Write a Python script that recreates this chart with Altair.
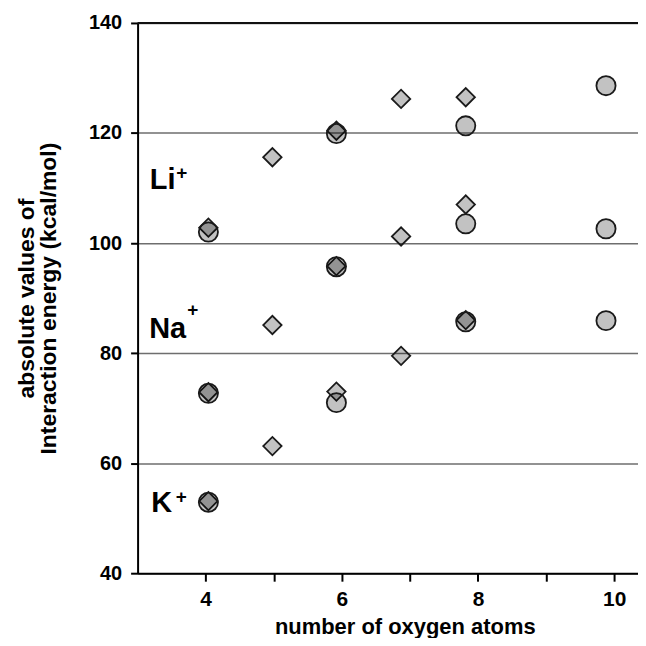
import altair as alt
import pandas as pd

# ---- data ----
diamond_x = [4.04, 4.04, 4.04, 4.98, 4.98, 4.98, 5.92, 5.92, 5.92, 6.87, 6.87, 6.87, 7.82, 7.82, 7.82]
diamond_y = [102.8, 72.9, 53.1, 115.6, 85.1, 63.1, 120.4, 95.8, 73.0, 126.2, 101.2, 79.5, 126.5, 107.0, 86.0]

circle_x = [4.04, 4.04, 4.04, 5.92, 5.92, 5.92, 7.82, 7.82, 7.82, 9.88, 9.88, 9.88]
circle_y = [102.0, 72.7, 52.9, 119.9, 95.7, 71.0, 121.3, 103.5, 85.7, 128.6, 102.6, 85.9]

ion_names = ["Li", "Na", "K"]
ion_x = [3.18, 3.17, 3.2]
ion_y = [109.9, 82.75, 51.2]
plus_x = [3.65, 3.81, 3.64]
plus_y = [111.7, 86.8, 52.7]

x_ticks = [4, 5, 6, 7, 8, 9, 10]
y_ticks = [40, 60, 80, 100, 120, 140]
top_line = [140]

FONT = "Liberation Sans"

diamonds = pd.DataFrame({"x": diamond_x, "y": diamond_y})
circles = pd.DataFrame({"x": circle_x, "y": circle_y})
ions = pd.DataFrame({"x": ion_x, "y": ion_y, "t": ion_names})
pluses = pd.DataFrame({"x": plus_x, "y": plus_y, "t": ["+"] * 3})
top_df = pd.DataFrame({"y": top_line})

xscale = alt.Scale(domain=[3, 10.35], nice=False, zero=False)
yscale = alt.Scale(domain=[40, 140], nice=False, zero=False)

xaxis = alt.Axis(
    values=x_ticks,
    format="d",
    labelExpr="datum.value % 2 == 0 ? datum.label : ''",
    grid=False,
    tickSize=8, tickWidth=2, tickColor="#000000",
    domainColor="#000000", domainWidth=2,
    labelFont=FONT, labelFontSize=21, labelFontWeight="bold", labelColor="#000000",
    labelPadding=7,
    title="number of oxygen atoms",
    titleFont=FONT, titleFontSize=22, titleFontWeight="bold", titleColor="#000000",
    titleX=268, titleY=60, titleBaseline="alphabetic", titleAlign="center",
)

yaxis = alt.Axis(
    values=y_ticks,
    format="d",
    grid=True, gridColor="#6e6e6e", gridWidth=1.5,
    tickSize=7, tickWidth=2, tickColor="#000000",
    domainColor="#000000", domainWidth=2,
    labelFont=FONT, labelFontSize=20, labelFontWeight="bold", labelColor="#000000",
    labelPadding=9,
    title=["absolute values of", "Interaction energy (kcal/mol)"],
    titleFont=FONT, titleFontSize=23, titleFontWeight="bold", titleColor="#000000",
    titleLineHeight=22,
    titleX=-99, titleY=276, titleBaseline="bottom", titleAlign="center",
)

base_enc = dict(
    x=alt.X("x:Q", scale=xscale, axis=xaxis),
    y=alt.Y("y:Q", scale=yscale, axis=yaxis),
)

d_layer = alt.Chart(diamonds).mark_point(
    shape="diamond", size=340, filled=True, fill="#000000", fillOpacity=0.24,
    stroke="#1a1a1a", strokeWidth=1.8, opacity=1,
).encode(**base_enc)

c_layer = alt.Chart(circles).mark_point(
    shape="circle", size=370, filled=True, fill="#000000", fillOpacity=0.24,
    stroke="#1a1a1a", strokeWidth=1.8, opacity=1,
).encode(x="x:Q", y="y:Q")

top_rule = alt.Chart(top_df).mark_rule(color="#111111", strokeWidth=2).encode(y="y:Q")

ion_text = alt.Chart(ions).mark_text(
    font=FONT, fontSize=29, fontWeight="bold", align="left", baseline="alphabetic", color="#000000"
).encode(x="x:Q", y="y:Q", text="t:N")

plus_text = alt.Chart(pluses).mark_text(
    font=FONT, fontSize=19, fontWeight="bold", align="center", baseline="alphabetic", color="#000000"
).encode(x="x:Q", y="y:Q", text="t:N")

chart = alt.layer(d_layer, c_layer, top_rule, ion_text, plus_text).properties(
    width=502, height=552,
    autosize=alt.AutoSizeParams(type="none"),
    padding={"left": 130, "top": 14, "right": 0, "bottom": 64},
    background="#ffffff",
).configure_view(stroke="transparent")

chart.save("out.html", embed_options={"renderer": "svg", "actions": False})
